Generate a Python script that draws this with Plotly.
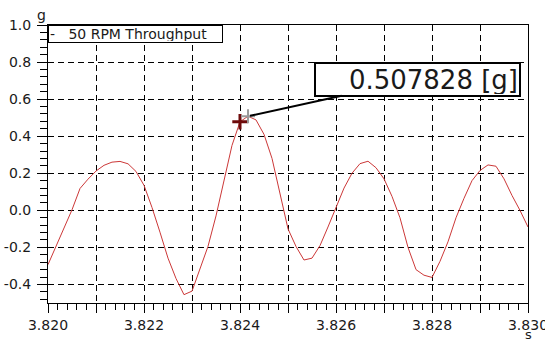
import plotly.graph_objects as go

# Sampled acceleration channel (6 kHz), time in seconds
series_name = "50 RPM Throughput"
time_s = [
    3.820000, 3.820167, 3.820333, 3.820500, 3.820667, 3.820833,
    3.821000, 3.821167, 3.821333, 3.821500, 3.821667, 3.821833,
    3.822000, 3.822167, 3.822333, 3.822500, 3.822667, 3.822833,
    3.823000, 3.823167, 3.823333, 3.823500, 3.823667, 3.823833,
    3.824000, 3.824167, 3.824333, 3.824500, 3.824667, 3.824833,
    3.825000, 3.825167, 3.825333, 3.825500, 3.825667, 3.825833,
    3.826000, 3.826167, 3.826333, 3.826500, 3.826667, 3.826833,
    3.827000, 3.827167, 3.827333, 3.827500, 3.827667, 3.827833,
    3.828000, 3.828167, 3.828333, 3.828500, 3.828667, 3.828833,
    3.829000, 3.829167, 3.829333, 3.829500, 3.829667, 3.829833,
    3.830000,
]
accel_g = [
    -0.293, -0.195, -0.096, 0.003, 0.118, 0.168,
    0.212, 0.243, 0.260, 0.264, 0.251, 0.210,
    0.135, 0.015, -0.118, -0.258, -0.368, -0.455,
    -0.436, -0.320, -0.195, -0.030, 0.170, 0.350,
    0.478, 0.507828, 0.488, 0.410, 0.280, 0.090,
    -0.100, -0.195, -0.268, -0.258, -0.190, -0.090,
    0.010, 0.120, 0.200, 0.252, 0.265, 0.230,
    0.170, 0.075, -0.040, -0.200, -0.320, -0.350,
    -0.362, -0.275, -0.170, -0.040, 0.065, 0.160,
    0.215, 0.245, 0.238, 0.170, 0.080, 0.000,
    -0.090,
]

# Cursor sample and the sample whose value is read out
cursor_idx = 24
readout_idx = 25

x_ticks = [3.820, 3.821, 3.822, 3.823, 3.824, 3.825, 3.826, 3.827, 3.828, 3.829, 3.830]
x_tick_text = ["3.820", "", "3.822", "", "3.824", "", "3.826", "", "3.828", "", "3.830"]
y_ticks = [-0.4, -0.2, 0.0, 0.2, 0.4, 0.6, 0.8, 1.0]
y_tick_text = ["-0.4", "-0.2", "0.0", "0.2", "0.4", "0.6", "0.8", "1.0"]

FONT = "DejaVu Sans, Verdana, sans-serif"
TXT = "#1a1a1a"

fig = go.Figure()

fig.add_trace(go.Scatter(
    x=time_s, y=accel_g, mode="lines", name=series_name,
    line=dict(color="#cc3838", width=1), showlegend=False,
))

# Cursor cross on the trace
fig.add_trace(go.Scatter(
    x=[time_s[cursor_idx]], y=[accel_g[cursor_idx]], mode="markers",
    marker=dict(symbol="cross-thin", size=11, line=dict(color="#6e0b0b", width=3)),
    showlegend=False, hoverinfo="skip",
))
# Read-out point
fig.add_trace(go.Scatter(
    x=[time_s[readout_idx]], y=[accel_g[readout_idx]], mode="markers",
    marker=dict(symbol="cross-thin", size=10, line=dict(color="#9a9a9a", width=2)),
    showlegend=False, hoverinfo="skip",
))

axis_common = dict(
    showline=True, linecolor="black", linewidth=1, mirror=True,
    showgrid=True, gridcolor="black", gridwidth=1, griddash="6px,4px",
    zeroline=False, ticks="outside", tickcolor="black", tickwidth=1,
    tickfont=dict(family=FONT, size=14, color=TXT),
    ticklabeloverflow="allow", automargin=False,
)

fig.update_xaxes(
    range=[3.820, 3.830], tickmode="array", tickvals=x_ticks, ticktext=x_tick_text,
    ticklen=9,
    minor=dict(tickmode="linear", tick0=3.820, dtick=0.0002, ticklen=6,
               tickcolor="black", tickwidth=1, ticks="outside", showgrid=False),
    **axis_common,
)
fig.update_yaxes(
    range=[-0.5, 1.0], tickmode="array", tickvals=y_ticks, ticktext=y_tick_text,
    ticklen=10, ticklabelstandoff=3,
    minor=dict(tickmode="linear", tick0=0.0, dtick=0.04, ticklen=7,
               tickcolor="black", tickwidth=1, ticks="outside", showgrid=False),
    **axis_common,
)

annotations = [
    # Legend box
    dict(
        xref="paper", yref="paper", x=0, y=1, xanchor="left", yanchor="top",
        text="-\u00a0\u00a0\u00a0" + series_name, showarrow=False, align="left",
        font=dict(family=FONT, size=14, color=TXT),
        bgcolor="white", bordercolor="black", borderwidth=1, borderpad=1,
        width=171, height=14,
    ),
    # Value read-out with leader line
    dict(
        x=time_s[readout_idx], y=accel_g[readout_idx], xref="x", yref="y",
        text=f"{accel_g[readout_idx]:.6f} [g]", showarrow=True, arrowhead=0,
        arrowwidth=2, arrowcolor="black", ax=169, ay=-37, standoff=2,
        font=dict(family=FONT, size=26, color=TXT), align="right",
        bgcolor="white", bordercolor="black", borderwidth=2, borderpad=1,
        width=201, height=29,
    ),
    # Axis units
    dict(xref="paper", yref="paper", x=0, y=1, xanchor="center", yanchor="bottom",
         xshift=-7, yshift=0, text="g", showarrow=False,
         font=dict(family=FONT, size=14, color=TXT)),
    dict(xref="paper", yref="paper", x=1, y=0, xanchor="center", yanchor="top",
         yshift=-22, text="s", showarrow=False,
         font=dict(family=FONT, size=13, color=TXT)),
]

fig.update_layout(
    width=545, height=340,
    margin=dict(l=48, r=17, t=25, b=37),
    paper_bgcolor="white", plot_bgcolor="white",
    annotations=annotations,
    font=dict(family=FONT, color=TXT),
)

fig.write_html("out.html")
